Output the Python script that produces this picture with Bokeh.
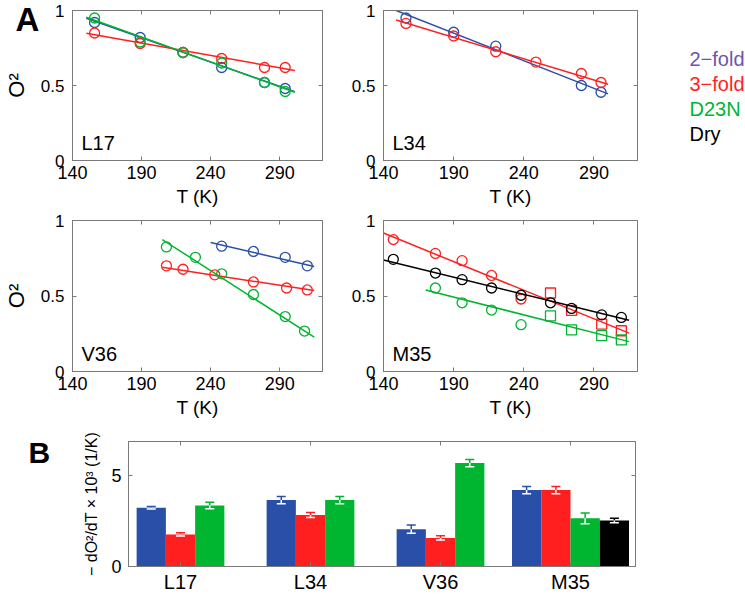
from bokeh.plotting import figure
from bokeh.models import (Range1d, LinearAxis, FixedTicker, Label, ColumnDataSource,
                          Whisker, TeeHead, NumeralTickFormatter, CustomJSTickFormatter, GridBox)
from bokeh.layouts import row, column
from bokeh.embed import file_html
from bokeh.resources import INLINE

FONT = "Liberation Sans"
BLUE, RED, GREEN, BLACK = "#2a4fa8", "#ff1f1f", "#00b530", "#000000"
PURPLE = "#6c55ad"
AXC = "#7a7a7a"

# ---------------- data ----------------
T_TICKS = [140, 190, 240, 290]
O2_TICKS = [0, 0.5, 1]

# L17
L17_T = [156, 189, 220, 248, 279, 294]
L17_2fold = [0.92, 0.82, 0.72, 0.62, 0.52, 0.48]
L17_3fold = [0.85, 0.78, 0.72, 0.68, 0.62, 0.62]
L17_D23N = [0.95, 0.79, 0.72, 0.65, 0.52, 0.46]
L17_fit_T = [150, 301]
L17_fit_2fold = [0.948, 0.459]
L17_fit_3fold = [0.848, 0.600]
L17_fit_D23N = [0.955, 0.455]

# L34
L34_T_2fold = [156, 190, 220, 281, 295]
L34_2fold = [0.95, 0.855, 0.762, 0.50, 0.455]
L34_T_3fold = [156, 190, 220, 248.6, 281, 295]
L34_3fold = [0.914, 0.83, 0.725, 0.656, 0.58, 0.52]
L34_fit_T = [149, 300]
L34_fit_2fold = [1.0, 0.444]
L34_fit_3fold = [0.937, 0.508]

# V36
V36_T_2fold = [248, 271, 294, 310]
V36_2fold = [0.83, 0.795, 0.756, 0.70]
V36_T_3fold = [208, 220, 243, 271, 295, 310]
V36_3fold = [0.70, 0.677, 0.64, 0.593, 0.553, 0.54]
V36_T_D23N = [208, 229, 248, 271, 294, 308]
V36_D23N = [0.825, 0.756, 0.647, 0.51, 0.364, 0.268]
V36_fit_T_2fold = [240, 315]
V36_fit_2fold = [0.854, 0.695]
V36_fit_T_3fold = [205, 315]
V36_fit_3fold = [0.69, 0.536]
V36_fit_T_D23N = [205, 315]
V36_fit_D23N = [0.874, 0.227]

# M35
M35_T_circ = [147, 177, 196, 217, 238]
M35_3fold_circ = [0.874, 0.782, 0.734, 0.636, 0.48]
M35_T_sq = [259, 274, 295.5, 309.5]
M35_3fold_sq = [0.52, 0.405, 0.314, 0.27]
M35_T_dry = [147, 177, 196, 217, 238, 259, 274, 295.5, 309.5]
M35_dry = [0.743, 0.652, 0.608, 0.553, 0.505, 0.455, 0.418, 0.375, 0.358]
M35_T_D23N_circ = [177, 196, 217, 238]
M35_D23N_circ = [0.553, 0.455, 0.407, 0.31]
M35_D23N_sq = [0.368, 0.276, 0.237, 0.21]
M35_fit_T = [140, 315]
M35_fit_3fold = [0.917, 0.254]
M35_fit_dry = [0.739, 0.34]
M35_fit_T_D23N = [170, 315]
M35_fit_D23N = [0.54, 0.198]

# Bar chart: -dO2/dT x 10^3 (1/K)
bar_groups = ["L17", "L34", "V36", "M35"]
slope_2fold = [3.24, 3.67, 2.06, 4.22]
err_2fold = [0.07, 0.20, 0.23, 0.20]
slope_3fold = [1.77, 2.84, 1.58, 4.22]
err_3fold = [0.09, 0.14, 0.12, 0.20]
slope_D23N = [3.37, 3.67, 5.71, 2.66]
err_D23N = [0.18, 0.20, 0.20, 0.30]
slope_dry = [None, None, None, 2.54]
err_dry = [None, None, None, 0.12]

legend_names = ["2\u2212fold", "3\u2212fold", "D23N", "Dry"]
legend_colors = [PURPLE, RED, GREEN, BLACK]

PAGE_W, PAGE_H = 745, 595


# ---------------- helpers ----------------
def mirror(p, ticks, side):
    ax = LinearAxis(ticker=FixedTicker(ticks=ticks),
                    formatter=CustomJSTickFormatter(code="return ''"),
                    major_tick_in=4, major_tick_out=0,
                    minor_tick_line_color=None,
                    axis_line_color=AXC, major_tick_line_color=AXC,
                    major_label_text_font_size="0px", major_label_standoff=0)
    p.add_layout(ax, side)


def style_axis(ax, label_size):
    ax.major_tick_in = 4
    ax.major_tick_out = 0
    ax.minor_tick_line_color = None
    ax.axis_line_color = AXC
    ax.major_tick_line_color = AXC
    ax.major_label_text_font = FONT
    ax.major_label_text_font_size = label_size
    ax.major_label_text_color = "black"
    ax.axis_label_text_font = FONT
    ax.axis_label_text_font_style = "normal"
    ax.axis_label_text_color = "black"


def make_panel(name, width, height, left, right, top, bottom, ylabel):
    p = figure(width=width, height=height, x_range=Range1d(140, 321), y_range=Range1d(0, 1),
               output_backend="svg", toolbar_location=None,
               min_border_left=left, min_border_right=right,
               min_border_top=top, min_border_bottom=bottom)
    p.grid.grid_line_color = None
    p.outline_line_color = AXC
    p.xaxis.ticker = FixedTicker(ticks=T_TICKS)
    p.yaxis.ticker = FixedTicker(ticks=O2_TICKS)
    p.yaxis.formatter = NumeralTickFormatter(format="0.[0]")
    style_axis(p.xaxis[0], "18px")
    style_axis(p.yaxis[0], "17px")
    p.xaxis.axis_label = "T (K)"
    p.xaxis.axis_label_text_font_size = "19px"
    p.xaxis.major_label_standoff = 5
    p.xaxis.axis_label_standoff = 4
    p.yaxis.major_label_standoff = 8
    if ylabel:
        p.yaxis.axis_label = "O\u00b2"
        p.yaxis.axis_label_text_font_size = "22px"
        p.yaxis.axis_label_standoff = 9
    mirror(p, T_TICKS, "above")
    mirror(p, O2_TICKS, "right")
    p.add_layout(Label(x=9, y=7, x_units="screen", y_units="screen", text=name,
                       text_font=FONT, text_font_size="20px", text_color="black"))
    return p


def fit(p, T, v, color):
    p.line(T, v, line_color=color, line_width=1.5)


def pts(p, T, v, color, marker="circle"):
    p.scatter(T, v, marker=marker, size=10, fill_color=None, line_color=color, line_width=1.3)


# ---------------- panels ----------------
pL17 = make_panel("L17", 340, 210, 68, 18, 10, 50, True)
fit(pL17, L17_fit_T, L17_fit_2fold, BLUE); pts(pL17, L17_T, L17_2fold, BLUE)
fit(pL17, L17_fit_T, L17_fit_3fold, RED); pts(pL17, L17_T, L17_3fold, RED)
fit(pL17, L17_fit_T, L17_fit_D23N, GREEN); pts(pL17, L17_T, L17_D23N, GREEN)

pL34 = make_panel("L34", 405, 210, 43, 108, 10, 50, False)
fit(pL34, L34_fit_T, L34_fit_2fold, BLUE); pts(pL34, L34_T_2fold, L34_2fold, BLUE)
fit(pL34, L34_fit_T, L34_fit_3fold, RED); pts(pL34, L34_T_3fold, L34_3fold, RED)

pV36 = make_panel("V36", 340, 210, 68, 18, 10, 47, True)
fit(pV36, V36_fit_T_2fold, V36_fit_2fold, BLUE); pts(pV36, V36_T_2fold, V36_2fold, BLUE)
fit(pV36, V36_fit_T_3fold, V36_fit_3fold, RED); pts(pV36, V36_T_3fold, V36_3fold, RED)
fit(pV36, V36_fit_T_D23N, V36_fit_D23N, GREEN); pts(pV36, V36_T_D23N, V36_D23N, GREEN)

pM35 = make_panel("M35", 405, 210, 43, 108, 10, 47, False)
fit(pM35, M35_fit_T, M35_fit_3fold, RED)
pts(pM35, M35_T_circ, M35_3fold_circ, RED); pts(pM35, M35_T_sq, M35_3fold_sq, RED, "square")
fit(pM35, M35_fit_T_D23N, M35_fit_D23N, GREEN)
pts(pM35, M35_T_D23N_circ, M35_D23N_circ, GREEN); pts(pM35, M35_T_sq, M35_D23N_sq, GREEN, "square")
fit(pM35, M35_fit_T, M35_fit_dry, BLACK); pts(pM35, M35_T_dry, M35_dry, BLACK)

# ---------------- bar chart ----------------
pB = figure(width=PAGE_W, height=175, x_range=Range1d(0.6, 4.5), y_range=Range1d(0, 6.9),
            output_backend="svg", toolbar_location=None,
            min_border_left=128, min_border_right=110, min_border_top=21, min_border_bottom=24)
pB.grid.grid_line_color = None
pB.outline_line_color = AXC
pB.xaxis.ticker = FixedTicker(ticks=[1, 2, 3, 4])
pB.xaxis.major_label_overrides = {i + 1: g for i, g in enumerate(bar_groups)}
pB.yaxis.ticker = FixedTicker(ticks=[0, 5])
style_axis(pB.xaxis[0], "20px")
style_axis(pB.yaxis[0], "18px")
pB.xaxis.major_label_standoff = 4
pB.yaxis.major_label_standoff = 7
pB.yaxis.axis_label = "\u2212 dO\u00b2/dT \u00d7 10\u00b3 (1/K)"
pB.yaxis.axis_label_text_font_size = "16px"
pB.yaxis.axis_label_standoff = 8
mirror(pB, [1, 2, 3, 4], "above")
mirror(pB, [0, 5], "right")

W = 0.225
series = [(slope_2fold, err_2fold, BLUE), (slope_3fold, err_3fold, RED),
          (slope_D23N, err_D23N, GREEN), (slope_dry, err_dry, BLACK)]
per_series = {c: dict(x=[], top=[], up=[], lo=[]) for _, _, c in series}
for gi in range(len(bar_groups)):
    present = [(v[gi], e[gi], c) for v, e, c in series if v[gi] is not None]
    n = len(present)
    for j, (v, e, c) in enumerate(present):
        d = per_series[c]
        d["x"].append(gi + 1 + (j - (n - 1) / 2) * W)
        d["top"].append(v)
        d["up"].append(v + e)
        d["lo"].append(v - e)

for _, _, c in series:
    src = ColumnDataSource(per_series[c])
    pB.vbar(x="x", top="top", bottom=0, width=W, fill_color=c, line_color=None, source=src)
    pB.add_layout(Whisker(source=src, base="x", lower="top", upper="up", dimension="height",
                          line_color=c, line_width=1.5, level="annotation",
                          upper_head=TeeHead(size=9, line_color=c, line_width=1.5),
                          lower_head=None))
    pB.add_layout(Whisker(source=src, base="x", lower="lo", upper="top", dimension="height",
                          line_color="white", line_width=1.5, level="annotation",
                          lower_head=TeeHead(size=9, line_color="white", line_width=1.5),
                          upper_head=None))

main = column(row(pL17, pL34), row(pV36, pM35), pB)

# ---------------- transparent overlay: panel letters and legend ----------------
ov = figure(width=PAGE_W, height=PAGE_H, x_range=Range1d(0, PAGE_W), y_range=Range1d(PAGE_H, 0),
            x_axis_type=None, y_axis_type=None, output_backend="svg", toolbar_location=None,
            min_border=0, outline_line_color=None,
            background_fill_color=None, border_fill_color=None)
ov.add_layout(Label(x=15, y=37, text="A", text_font=FONT, text_font_size="33px",
                    text_font_style="bold", text_color="black"))
ov.add_layout(Label(x=28, y=468, text="B", text_font=FONT, text_font_size="30px",
                    text_font_style="bold", text_color="black"))
for i, (nm, col) in enumerate(zip(legend_names, legend_colors)):
    ov.add_layout(Label(x=689, y=69 + 25 * i, text=nm, text_font=FONT,
                        text_font_size="20px", text_color=col))

layout = GridBox(children=[(main, 0, 0), (ov, 0, 0)], spacing=0)

open("out.html", "w").write(file_html(layout, INLINE))
